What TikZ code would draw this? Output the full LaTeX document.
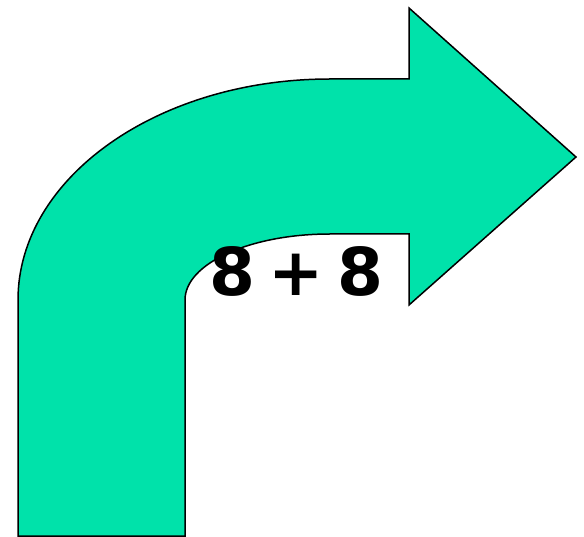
\documentclass[tikz,border=0pt]{standalone}
\usepackage{fontspec}
\setmainfont[WordSpace=0.6]{DejaVu Sans}
\definecolor{arrowgreen}{RGB}{0,226,170}
\tikzset{bentarrow/.style={fill=arrowgreen,draw=black,line width=1.5pt,line join=miter},
  labeltext/.style={font=\fontsize{66}{70}\selectfont\bfseries,inner sep=0pt,anchor=base}}
\begin{document}
\begin{tikzpicture}[x=1pt,y=1pt]
\useasboundingbox (0,0) rectangle (584,536);
\path[bentarrow] (18,0) -- (18,236) arc[start angle=180,end angle=90,x radius=312,y radius=221]
  -- (409,457) -- (409,528) -- (576,379) -- (409,231) -- (409,302) -- (330,302)
  arc[start angle=90,end angle=180,x radius=145,y radius=66] -- (185,0) -- cycle;
\node[labeltext] (lbl) at (296.5,240) {8 + 8};
\end{tikzpicture}
\end{document}
